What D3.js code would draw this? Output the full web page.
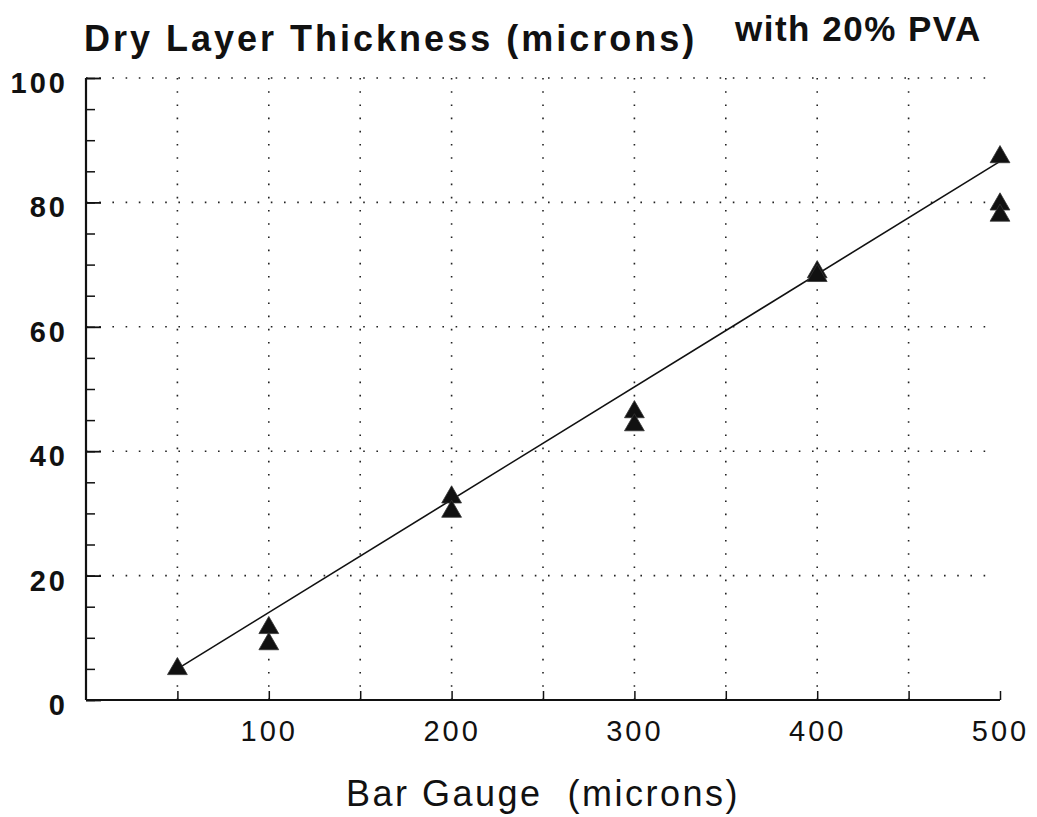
<!DOCTYPE html>
<html>
<head>
<meta charset="utf-8">
<script src="https://cdn.jsdelivr.net/npm/d3@7"></script>
<style>
	body { margin: 0; background: white; }
	svg text { font-family: "Liberation Sans", Arial, sans-serif; fill: #111; }
</style>
</head>
<body>
<div id="chart"></div>
<script>
// measured points (bar gauge in microns -> dry layer in microns)
const gaugeValues = [50, 100, 100, 200, 200, 300, 300, 400, 400, 500, 500, 500]
const thicknessValues = [5, 11.6, 9, 32.6, 30.3, 46.3, 44.2, 68.8, 68.2, 87.3, 79.7, 77.9]

// fitted line end points
const fitGauge = [50, 500]
const fitThickness = [5, 86.6]

const xTicks = [100, 200, 300, 400, 500]
const xGrid = [50, 100, 150, 200, 250, 300, 350, 400, 450]
const yTicks = [0, 20, 40, 60, 80, 100]
const yMinor = d3.range(0, 101, 5)

const width = 1037
const height = 817

const svg = d3.select("#chart")
	.append("svg")
	.attr("width", width)
	.attr("height", height)

const x = d3.scaleLinear().domain([0, 500]).range([86, 1000])
const y = d3.scaleLinear().domain([0, 100]).range([700, 78])

// grid lines (dotted)
svg.append("g")
	.selectAll("line")
	.data(yTicks.filter((d) => d > 0))
	.join("line")
	.attr("x1", x(0))
	.attr("x2", x(492))
	.attr("y1", (d) => y(d))
	.attr("y2", (d) => y(d))
	.attr("stroke", "#222")
	.attr("stroke-width", 1.6)
	.attr("stroke-dasharray", "1.6,11.6")

svg.append("g")
	.selectAll("line")
	.data(xGrid)
	.join("line")
	.attr("x1", (d) => x(d))
	.attr("x2", (d) => x(d))
	.attr("y1", y(0))
	.attr("y2", y(100))
	.attr("stroke", "#222")
	.attr("stroke-width", 1.6)
	.attr("stroke-dasharray", "1.6,11.6")

// y axis with inward ticks
const yAxis = svg.append("g")
	.attr("transform", `translate(${x(0)},0)`)
	.call(d3.axisLeft(y).tickValues(yMinor).tickSize(-9).tickFormat(""))
yAxis.select(".domain").remove()
yAxis.selectAll(".tick line").attr("stroke", "#111").attr("stroke-width", 1.5)

const yMajor = svg.append("g")
	.attr("transform", `translate(${x(0)},0)`)
	.call(d3.axisLeft(y).tickValues(yTicks).tickSize(-15).tickPadding(18))
yMajor.select(".domain").remove()
yMajor.selectAll(".tick line").attr("stroke", "#111").attr("stroke-width", 1.8)
yMajor.selectAll(".tick text")
	.attr("dy", "0.5em")
	.style("font-size", "29px")
	.style("font-weight", "bold")
	.style("letter-spacing", "3px")

svg.append("line")
	.attr("x1", x(0)).attr("x2", x(0))
	.attr("y1", y(100)).attr("y2", y(0))
	.attr("stroke", "#111")
	.attr("stroke-width", 2.2)

// x axis
const xAxis = svg.append("g")
	.attr("transform", `translate(0,${y(0)})`)
	.call(d3.axisBottom(x).tickValues(xGrid.concat([500])).tickSize(-9).tickFormat(""))
xAxis.select(".domain").remove()
xAxis.selectAll(".tick line").attr("stroke", "#111").attr("stroke-width", 1.5)

svg.append("g")
	.attr("transform", `translate(0,${y(0)})`)
	.call(d3.axisBottom(x).tickValues(xTicks).tickSize(0).tickPadding(20))
	.call((g) => g.select(".domain").remove())
	.selectAll(".tick text")
	.style("font-size", "29px")
	.style("letter-spacing", "3px")

svg.append("line")
	.attr("x1", x(0)).attr("x2", x(500))
	.attr("y1", y(0)).attr("y2", y(0))
	.attr("stroke", "#111")
	.attr("stroke-width", 2.2)

// fitted line
const line = d3.line()
	.x((d, i) => x(fitGauge[i]))
	.y((d) => y(d))

svg.append("path")
	.datum(fitThickness)
	.attr("fill", "none")
	.attr("stroke", "#111")
	.attr("stroke-width", 1.6)
	.attr("d", line)

// triangles
const tri = d3.symbol().type(d3.symbolTriangle).size(170)
svg.append("g")
	.selectAll("path")
	.data(gaugeValues)
	.join("path")
	.attr("transform", (d, i) => `translate(${x(d)},${y(thicknessValues[i])})`)
	.attr("d", tri)
	.attr("fill", "#111")
	.attr("stroke", "#333")
	.attr("stroke-width", 0.8)

// titles
svg.append("text")
	.attr("x", 84)
	.attr("y", 51)
	.style("font-size", "36px")
	.style("font-weight", "bold")
	.style("letter-spacing", "3px")
	.text("Dry Layer Thickness (microns)")

svg.append("text")
	.attr("x", 735)
	.attr("y", 41)
	.style("font-size", "35px")
	.style("font-weight", "bold")
	.style("letter-spacing", "1.5px")
	.text("with 20% PVA")

svg.append("text")
	.attr("x", 543)
	.attr("y", 806)
	.attr("text-anchor", "middle")
	.style("font-size", "36px")
	.style("letter-spacing", "2.5px")
	.style("white-space", "pre")
	.text("Bar Gauge  (microns)")
</script>
</body>
</html>
